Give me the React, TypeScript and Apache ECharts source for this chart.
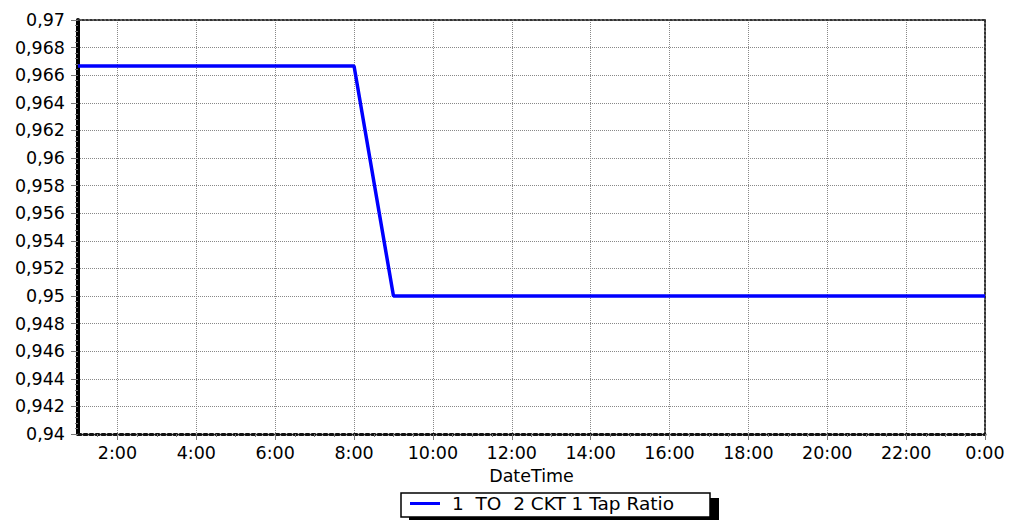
import React, { useEffect, useRef } from "react";
import * as echarts from "echarts";

const hours = [1, 2, 3, 4, 5, 6, 7, 8, 9, 10, 11, 12, 13, 14, 15, 16, 17, 18, 19, 20, 21, 22, 23, 24];
const tapRatio = [
  0.96667, 0.96667, 0.96667, 0.96667, 0.96667, 0.96667, 0.96667, 0.96667,
  0.95, 0.95, 0.95, 0.95, 0.95, 0.95, 0.95, 0.95, 0.95, 0.95, 0.95, 0.95, 0.95, 0.95, 0.95, 0.95,
];
const xMajorTicks = [2, 4, 6, 8, 10, 12, 14, 16, 18, 20, 22, 24];
const xMinorTicks = [1.5, 2.5, 3, 3.5, 4.5, 5, 5.5, 6.5, 7, 7.5, 8.5, 9, 9.5, 10.5, 11, 11.5, 12.5, 13, 13.5, 14.5, 15, 15.5, 16.5, 17, 17.5, 18.5, 19, 19.5, 20.5, 21, 21.5, 22.5, 23, 23.5];
const seriesName = "1  TO  2 CKT 1 Tap Ratio";

const FONT = "'DejaVu Sans', 'Liberation Sans', Arial, sans-serif";
const FS = 17.5;

export default function App() {
  const ref = useRef<HTMLDivElement>(null);
  useEffect(() => {
    if (!ref.current) return;
    const chart = echarts.init(ref.current, undefined, { renderer: "svg" });
    const fmtX = (v: number) => `${Math.round(v) % 24}:00`;
    chart.setOption({
      animation: false,
      backgroundColor: "#ffffff",
      textStyle: { fontFamily: FONT },
      grid: { left: 78, right: 29, top: 20, bottom: 86, containLabel: false },
      xAxis: [
        {
          type: "value",
          min: 1,
          max: 24,
          position: "bottom",
          name: "DateTime",
          nameLocation: "middle",
          nameGap: 32,
          nameTextStyle: { color: "#000", fontSize: FS, fontFamily: FONT },
          axisLine: { show: true, onZero: false, lineStyle: { color: "#111", width: 3, type: "dotted" } },
          axisTick: { show: true, length: 6, lineStyle: { color: "#777", width: 1 }, customValues: xMajorTicks },
          axisLabel: { color: "#000", fontSize: FS, margin: 10, fontFamily: FONT, customValues: xMajorTicks, formatter: fmtX },
          splitLine: { show: true, lineStyle: { color: "#888", type: "dotted", width: 1 } },
        },
        {
          type: "value",
          min: 1,
          max: 24,
          position: "bottom",
          axisLine: { show: false, onZero: false },
          axisTick: { show: true, length: 3, lineStyle: { color: "#777", width: 1 }, customValues: xMinorTicks },
          axisLabel: { show: false },
          splitLine: { show: false },
        },
        {
          type: "value",
          min: 1,
          max: 24,
          position: "top",
          axisLine: { show: true, onZero: false, lineStyle: { color: "#333", width: 2, type: "dotted" } },
          axisTick: { show: false },
          axisLabel: { show: false },
          splitLine: { show: false },
        },
      ],
      yAxis: [
        {
          type: "value",
          min: 0.94,
          max: 0.97,
          interval: 0.002,
          position: "left",
          axisLine: { show: true, onZero: false, lineStyle: { color: "#000", width: 4 } },
          axisTick: { show: true, length: 7, lineStyle: { color: "#777", width: 1 } },
          minorTick: { show: true, splitNumber: 5, length: 3, lineStyle: { color: "#777", width: 1 } },
          axisLabel: {
            color: "#000",
            fontSize: FS,
            margin: 13,
            fontFamily: FONT,
            formatter: (v: number) => String(parseFloat(v.toFixed(3))).replace(".", ","),
          },
          splitLine: { show: true, lineStyle: { color: "#888", type: "dotted", width: 1 } },
        },
        {
          type: "value",
          min: 0.94,
          max: 0.97,
          interval: 0.002,
          position: "right",
          axisLine: { show: true, onZero: false, lineStyle: { color: "#333", width: 2, type: "dotted" } },
          axisTick: { show: false },
          axisLabel: { show: false },
          splitLine: { show: false },
        },
      ],
      legend: {
        show: true,
        left: 410,
        top: 494,
        padding: 0,
        itemGap: 0,
        icon: "rect",
        itemWidth: 30,
        itemHeight: 3,
        textStyle: { color: "#000", fontSize: 18.5, fontFamily: FONT, padding: [0, 0, 0, 7] },
        data: [{ name: seriesName, itemStyle: { color: "#0000ff" } }],
      },
      graphic: [
        { type: "rect", z: 0, shape: { x: 409, y: 498, width: 310, height: 26 }, style: { fill: "#000" } },
        { type: "rect", z: 1, shape: { x: 401, y: 493, width: 309, height: 24 }, style: { fill: "#fff", stroke: "#000", lineWidth: 1.5 } },
      ],
      series: [
        {
          name: seriesName,
          type: "line",
          xAxisIndex: 0,
          yAxisIndex: 0,
          symbol: "none",
          z: 5,
          lineStyle: { color: "#0000ff", width: 3.5 },
          itemStyle: { color: "#0000ff" },
          data: hours.map((h, i) => [h, tapRatio[i]]),
        },
      ],
    });
    return () => chart.dispose();
  }, []);
  return (
    <div
      ref={ref}
      style={{ position: "absolute", left: 0, top: 0, width: 1014, height: 520, background: "#fff" }}
    />
  );
}
